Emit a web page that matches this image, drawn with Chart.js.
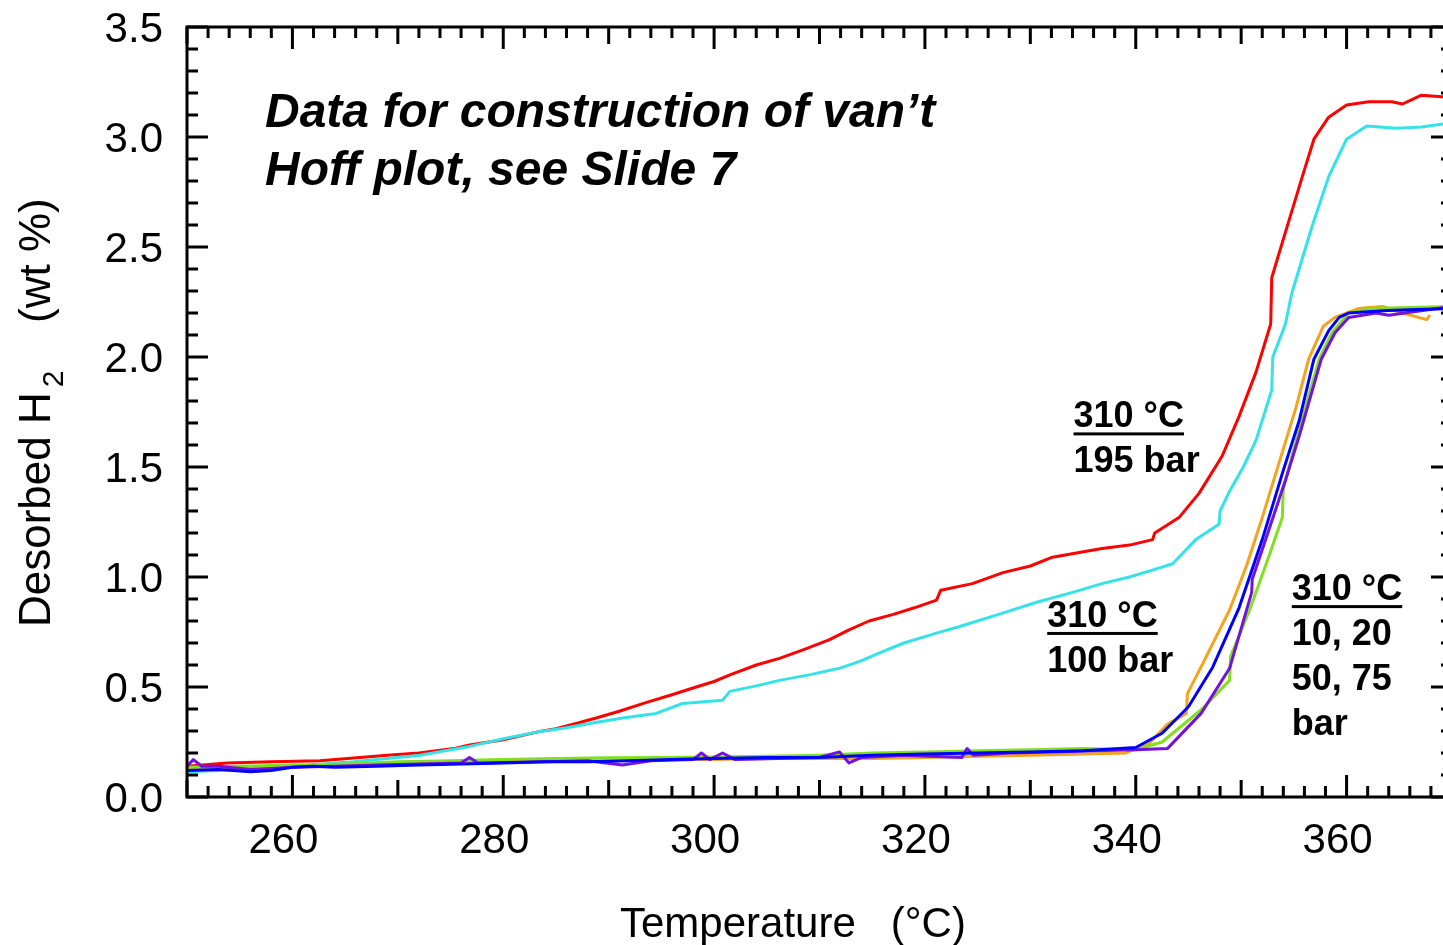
<!DOCTYPE html>
<html>
<head>
<meta charset="utf-8">
<script src="https://cdn.jsdelivr.net/npm/chart.js@4/dist/chart.umd.min.js"></script>
<style>
  html, body { margin: 0; padding: 0; background: #fff; overflow: hidden; }
  canvas { display: block; }
</style>
</head>
<body>
<canvas id="desorption" width="1460" height="945"></canvas>
<script>
// [temperature °C, desorbed H2 wt %] for each run at 310 °C
const run195 = [[250,0.14],[253.8,0.155],[258,0.16],[262.6,0.165],[266.4,0.18],[269,0.19],[272,0.2],[275.3,0.22],[276.8,0.236],[280,0.26],[283.2,0.295],[285,0.31],[287,0.335],[288.9,0.36],[291,0.39],[293.6,0.43],[296,0.465],[298.3,0.5],[300,0.525],[301.5,0.555],[304,0.6],[306.2,0.63],[308.5,0.67],[310.9,0.714],[312.8,0.76],[314.7,0.8],[317,0.83],[319,0.86],[321.1,0.895],[321.5,0.94],[324.5,0.97],[327.4,1.02],[330,1.05],[332.1,1.09],[334.5,1.11],[336.8,1.13],[339.4,1.145],[340.3,1.155],[341.6,1.17],[341.8,1.2],[344.1,1.27],[346,1.38],[348.2,1.55],[349.8,1.73],[351.4,1.93],[352.8,2.15],[352.9,2.36],[353.9,2.52],[355.8,2.82],[356.9,2.99],[358.3,3.09],[360,3.145],[362.1,3.16],[364.3,3.16],[365.3,3.15],[366.2,3.17],[367.1,3.19],[370,3.18]];
const run100 = [[250,0.115],[255,0.125],[259.5,0.135],[263,0.15],[265.8,0.16],[269,0.175],[272.1,0.19],[274.5,0.21],[276.8,0.23],[280,0.265],[283.2,0.295],[286,0.315],[288.9,0.34],[291.5,0.36],[294.5,0.38],[297,0.425],[300.8,0.44],[301.5,0.48],[304,0.505],[306.2,0.53],[309,0.555],[311.9,0.585],[314,0.62],[315.7,0.655],[318,0.7],[321.1,0.745],[323.3,0.775],[327,0.83],[330.6,0.885],[334,0.93],[336.8,0.97],[339.4,1.0],[341.5,1.03],[343.5,1.06],[345.7,1.17],[347.9,1.24],[348,1.3],[348.9,1.39],[350.2,1.5],[351.4,1.62],[352.9,1.85],[353,2.0],[354.2,2.15],[354.8,2.29],[356.7,2.59],[358.3,2.82],[360,2.99],[361.9,3.05],[364.7,3.04],[367.1,3.045],[370,3.065]];

// the four low-pressure runs (10, 20, 50, 75 bar)
const runBlue = [[250,0.12],[253,0.125],[256,0.115],[258,0.12],[260,0.135],[262,0.14],[264,0.135],[268,0.14],[272,0.145],[276,0.15],[280,0.155],[284,0.16],[288,0.16],[292,0.165],[296,0.17],[300,0.175],[305,0.18],[310,0.18],[315,0.19],[320,0.195],[325,0.2],[330,0.205],[335,0.21],[340,0.225],[342.5,0.29],[345,0.41],[347.3,0.59],[349.8,0.86],[352,1.17],[353.9,1.47],[355.5,1.71],[356.9,1.99],[358.3,2.12],[359.3,2.18],[360.2,2.2],[363.4,2.21],[366,2.215],[370,2.22]];
const runOrange = [[250,0.13],[255,0.135],[260,0.14],[265,0.145],[270,0.15],[275,0.155],[280,0.16],[285,0.165],[290,0.165],[295,0.17],[300,0.17],[305,0.175],[310,0.175],[315,0.175],[320,0.18],[325,0.185],[330,0.19],[335,0.195],[339,0.2],[341.3,0.245],[343,0.33],[344.8,0.38],[344.9,0.47],[346.5,0.62],[348.9,0.85],[350.5,1.05],[352,1.27],[353.6,1.52],[355.2,1.77],[356.4,1.99],[357.8,2.14],[358.9,2.18],[361.1,2.22],[363.4,2.23],[365.3,2.2],[367.6,2.17],[367.9,2.19]];
const runPurple = [[250,0.14],[250.6,0.17],[251.4,0.14],[253,0.14],[256,0.125],[258,0.13],[260,0.135],[264,0.14],[268,0.145],[272,0.15],[276,0.155],[276.8,0.18],[277.6,0.155],[284,0.16],[288,0.165],[291.3,0.145],[294,0.165],[298,0.17],[298.8,0.2],[299.6,0.17],[300.8,0.2],[302,0.17],[306,0.175],[310,0.18],[311.9,0.205],[312.8,0.155],[314,0.18],[318,0.19],[323.5,0.18],[324,0.22],[324.6,0.19],[328,0.2],[332,0.205],[336,0.21],[340,0.215],[343,0.22],[346.2,0.38],[348.9,0.585],[351,0.93],[351.05,0.99],[352.6,1.21],[354.2,1.44],[355.5,1.64],[357.6,1.99],[358.9,2.11],[360.2,2.18],[362.8,2.2],[364,2.19],[365.5,2.2],[370,2.23]];
const runGreen = [[250,0.135],[255,0.14],[260,0.145],[265,0.15],[270,0.16],[275,0.165],[280,0.17],[285,0.175],[290,0.178],[295,0.18],[300,0.182],[305,0.185],[310,0.19],[315,0.2],[320,0.205],[325,0.21],[330,0.215],[335,0.22],[340,0.215],[342.5,0.25],[346.3,0.4],[348.9,0.53],[349,0.64],[350.8,0.85],[352.6,1.09],[353.9,1.27],[354,1.4],[355.5,1.67],[357.4,1.99],[358.6,2.11],[360.2,2.2],[362.1,2.22],[370,2.23]];

const xTicks = [260, 280, 300, 320, 340, 360];
const yTicks = [0, 0.5, 1.0, 1.5, 2.0, 2.5, 3.0, 3.5];

const FONT = '"Liberation Sans", Arial, sans-serif';

const toPoints = run => run.map(([t, w]) => ({ x: t, y: w }));

let makeSet = (run, color) => ({
    data: toPoints(run),
    borderColor: color,
    backgroundColor: color,
    borderWidth: 3,
    pointRadius: 0,
    tension: 0,
    borderJoinStyle: 'round'
});

// frame, inward ticks, tick labels, titles and notes
const frame = {
    id: 'frame',
    afterDatasetsDraw(chart) {
        const { ctx, chartArea: a, scales: { x, y } } = chart;
        ctx.save();
        ctx.strokeStyle = '#000';
        ctx.fillStyle = '#000';
        ctx.lineWidth = 3;

        ctx.beginPath();
        for (let t = 250; t <= 370; t += 2) {
            const px = x.getPixelForValue(t);
            const len = t % 20 === 0 ? 22 : (t % 10 === 0 ? 17 : 11);
            ctx.moveTo(px, a.bottom); ctx.lineTo(px, a.bottom - len);
            ctx.moveTo(px, a.top); ctx.lineTo(px, a.top + len);
        }
        for (let i = 0; i <= 35; i++) {
            const py = y.getPixelForValue(i / 10);
            const len = i % 5 === 0 ? 21 : 11;
            ctx.moveTo(a.left, py); ctx.lineTo(a.left + len, py);
            ctx.moveTo(a.right, py); ctx.lineTo(a.right - len, py);
        }
        ctx.stroke();
        ctx.strokeRect(a.left, a.top, a.right - a.left, a.bottom - a.top);

        ctx.font = '42px ' + FONT;
        ctx.textBaseline = 'alphabetic';
        ctx.textAlign = 'center';
        xTicks.forEach(t => ctx.fillText(String(t), x.getPixelForValue(t) - 9, a.bottom + 56));
        ctx.textAlign = 'right';
        yTicks.forEach(v => ctx.fillText(v.toFixed(1), 163, y.getPixelForValue(v) + 15));

        // x title
        ctx.textAlign = 'left';
        ctx.fillText('Temperature   (\u00B0C)', 620, 937);

        // y title, rotated, with subscript 2
        ctx.save();
        ctx.translate(50, 627);
        ctx.rotate(-Math.PI / 2);
        ctx.font = '44px ' + FONT;
        ctx.fillText('Desorbed H', 0, 0);
        const hw = ctx.measureText('Desorbed H').width;
        ctx.font = '30px ' + FONT;
        ctx.fillText('2', hw + 5, 13);
        ctx.font = '44px ' + FONT;
        ctx.fillText('(wt %)', 304, 0);
        ctx.restore();

        // notes placed in data coordinates
        ctx.font = 'italic bold 48px ' + FONT;
        ctx.fillText('Data for construction of van\u2019t', x.getPixelForValue(257.4), y.getPixelForValue(3.045));
        ctx.fillText('Hoff plot, see Slide 7', x.getPixelForValue(257.4), y.getPixelForValue(2.782));

        let note = (lines, t, w) => {
            const px = x.getPixelForValue(t), py = y.getPixelForValue(w);
            ctx.font = 'bold 36px ' + FONT;
            lines.forEach((s, i) => ctx.fillText(s, px, py + i * 45));
            ctx.fillRect(px, py + 5, ctx.measureText(lines[0]).width, 3);
        };
        note(['310 \u00B0C', '195 bar'], 334.1, 1.68);
        note(['310 \u00B0C', '100 bar'], 331.6, 0.773);
        note(['310 \u00B0C', '10, 20', '50, 75', 'bar'], 354.8, 0.895);

        ctx.restore();
    }
};

new Chart(document.getElementById('desorption'), {
    type: 'line',
    data: {
        datasets: [
            makeSet(runBlue, '#0000ff'),
            makeSet(runPurple, '#7410e0'),
            makeSet(runGreen, '#80e020'),
            makeSet(runOrange, '#f5a21c'),
            makeSet(run100, '#33e3e8'),
            makeSet(run195, '#ff0000')
        ]
    },
    options: {
        responsive: false,
        animation: false,
        layout: { padding: { left: 187, top: 27, right: 8, bottom: 148 } },
        plugins: { legend: { display: false }, tooltip: { enabled: false } },
        scales: {
            x: { type: 'linear', min: 250, max: 370, display: false },
            y: { type: 'linear', min: 0, max: 3.5, display: false }
        }
    },
    plugins: [frame]
});
</script>
</body>
</html>
